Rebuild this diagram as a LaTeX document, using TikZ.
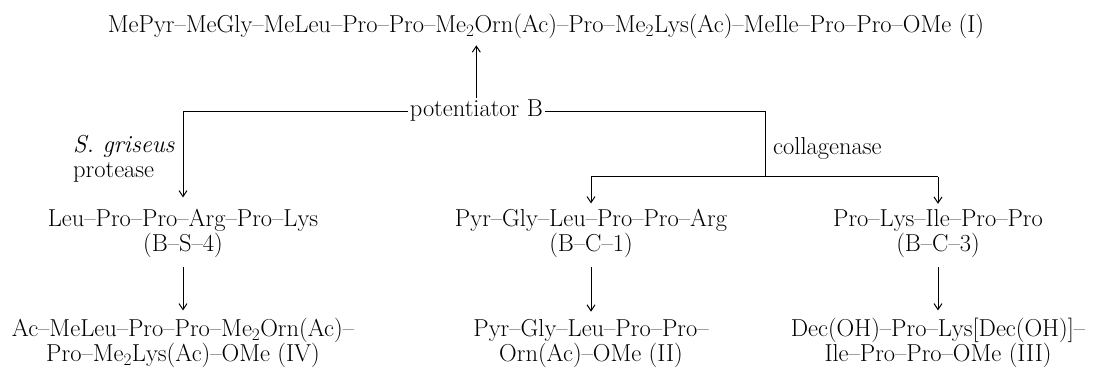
\documentclass[tikz,border=0pt]{standalone}
\usetikzlibrary{arrows.meta}
\begin{document}
\begin{tikzpicture}[x=1pt,y=1pt,
  font=\fontsize{24.5}{25}\selectfont,
  txt/.style={inner sep=0pt, anchor=base},
  arr/.style={-{Straight Barb[length=6pt,width=8pt]}, line width=1pt},
  ln/.style={line width=1pt}]
\useasboundingbox (0,0) rectangle (1094,374);
% texts
\node[txt] (top) at (546,341) {MePyr--MeGly--MeLeu--Pro--Pro--Me$_2$Orn(Ac)--Pro--Me$_2$Lys(Ac)--MeIle--Pro--Pro--OMe (I)};
\node[txt, anchor=base east] (pot) at (543,257) {potentiator B};
\node[txt, anchor=base east] (sg) at (175,221) {\textit{S. griseus}};
\node[txt, anchor=base west] (prot) at (sg.base west |- 0,196) {protease};
\node[txt, anchor=base west] (coll) at (773,219) {collagenase};
% row 2
\node[txt] (bs4a) at (183,147) {Leu--Pro--Pro--Arg--Pro--Lys};
\node[txt] (bs4b) at (183,122) {(B--S--4)};
\node[txt] (bc1a) at (591,147) {Pyr--Gly--Leu--Pro--Pro--Arg};
\node[txt] (bc1b) at (591,122) {(B--C--1)};
\node[txt] (bc3a) at (938,147) {Pro--Lys--Ile--Pro--Pro};
\node[txt] (bc3b) at (938,122) {(B--C--3)};
% row 3
\node[txt] (ivA) at (183,37) {Ac--MeLeu--Pro--Pro--Me$_2$Orn(Ac)--};
\node[txt] (ivB) at (183,12) {Pro--Me$_2$Lys(Ac)--OMe (IV)};
\node[txt] (iiA) at (591,37) {Pyr--Gly--Leu--Pro--Pro--};
\node[txt] (iiB) at (591,12) {Orn(Ac)--OMe (II)};
\node[txt] (iiiA) at (938,37) {Dec(OH)--Pro--Lys[Dec(OH)]--};
\node[txt] (iiiB) at (938,12) {Ile--Pro--Pro--OMe (III)};
% connector coordinates
\coordinate (L) at (183,262);
\coordinate (R) at (765,262);
\coordinate (Rb) at (765,197);
\coordinate (CL) at (591,197);
\coordinate (CR) at (938,197);
% connectors
\draw[arr] ([yshift=2pt]pot.north) -- ([yshift=-6pt]top.south -| pot.north);
\draw[ln] (L) -- ([xshift=-2pt]pot.west |- L);
\draw[ln] ([xshift=2pt]pot.east |- R) -- (R) -- (Rb);
\draw[ln] (CL) -- (CR);
\draw[arr] (L) -- ([yshift=12pt]bs4a.north);
\draw[arr] (CL) -- ([yshift=6pt]bc1a.north);
\draw[arr] (CR) -- ([yshift=6pt]bc3a.north);
\draw[arr] ([yshift=-9pt]bs4b.south) -- ([yshift=8pt]ivA.north);
\draw[arr] ([yshift=-9pt]bc1b.south) -- ([yshift=8pt]iiA.north);
\draw[arr] ([yshift=-9pt]bc3b.south) -- ([yshift=8pt]iiiA.north);
\end{tikzpicture}
\end{document}
